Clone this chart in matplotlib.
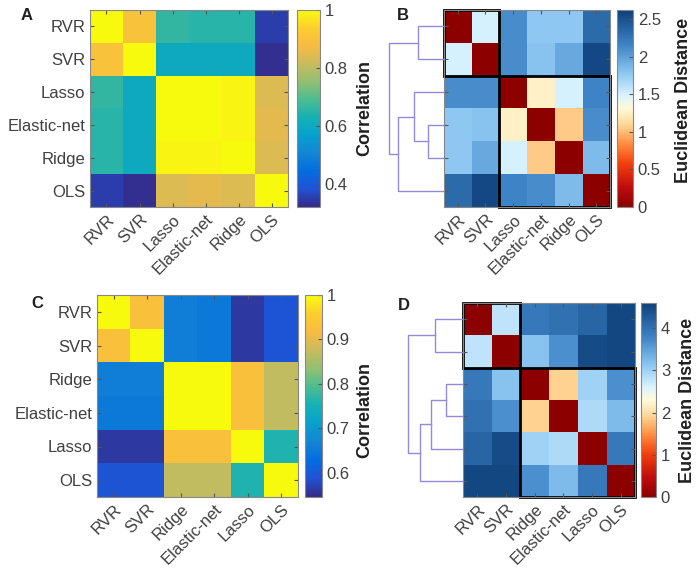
import matplotlib
matplotlib.use("Agg")
import matplotlib.pyplot as plt
import numpy as np
from matplotlib.colors import LinearSegmentedColormap
from matplotlib.patches import Rectangle

# ---- data ----
labels_a = ["RVR", "SVR", "Lasso", "Elastic-net", "Ridge", "OLS"]
corr_a = [
    [1.00, 0.90, 0.66, 0.65, 0.65, 0.35],
    [0.90, 1.00, 0.60, 0.60, 0.60, 0.33],
    [0.66, 0.60, 1.00, 1.00, 0.99, 0.84],
    [0.65, 0.60, 1.00, 1.00, 0.99, 0.85],
    [0.65, 0.60, 0.99, 0.99, 1.00, 0.84],
    [0.35, 0.33, 0.84, 0.85, 0.84, 1.00],
]
dist_b = [
    [0.00, 1.50, 2.10, 1.78, 1.78, 2.32],
    [1.50, 0.00, 2.10, 1.80, 1.95, 2.55],
    [2.10, 2.10, 0.00, 1.25, 1.50, 2.15],
    [1.78, 1.80, 1.25, 0.00, 1.05, 2.10],
    [1.78, 1.95, 1.50, 1.05, 0.00, 1.85],
    [2.32, 2.55, 2.15, 2.10, 1.85, 0.00],
]
# merges: (child a, child b, height); leaves 0..5, new clusters 6, 7, ...
link_b = [(3, 4, 16), (0, 1, 26), (2, 6, 29), (8, 5, 45), (7, 9, 54)]

labels_c = ["RVR", "SVR", "Ridge", "Elastic-net", "Lasso", "OLS"]
corr_c = [
    [1.00, 0.93, 0.66, 0.65, 0.56, 0.59],
    [0.93, 1.00, 0.66, 0.65, 0.56, 0.59],
    [0.66, 0.66, 1.00, 1.00, 0.93, 0.87],
    [0.65, 0.65, 1.00, 1.00, 0.93, 0.87],
    [0.56, 0.56, 0.93, 0.93, 1.00, 0.76],
    [0.59, 0.59, 0.87, 0.87, 0.76, 1.00],
]
dist_d = [
    [0.00, 2.80, 3.90, 4.00, 4.15, 4.50],
    [2.80, 0.00, 3.15, 3.65, 4.45, 4.50],
    [3.90, 3.15, 0.00, 1.90, 3.00, 3.65],
    [4.00, 3.65, 1.90, 0.00, 2.90, 3.25],
    [4.15, 4.45, 3.00, 2.90, 0.00, 3.90],
    [4.50, 4.50, 3.65, 3.25, 3.90, 0.00],
]
link_d = [(2, 3, 17), (0, 1, 28), (6, 4, 32), (8, 5, 43), (7, 9, 55)]

# ---- colormaps ----
parula = LinearSegmentedColormap.from_list("parula", [
    (0.2081, 0.1663, 0.5292), (0.1253, 0.3242, 0.8303), (0.0165, 0.4266, 0.8786),
    (0.0793, 0.5200, 0.8312), (0.0239, 0.6287, 0.8038), (0.0843, 0.6928, 0.7062),
    (0.3022, 0.7376, 0.5712), (0.5709, 0.7485, 0.4494), (0.7858, 0.7356, 0.3633),
    (0.9739, 0.7314, 0.2666), (0.9880, 0.8066, 0.1794), (0.9763, 0.9831, 0.0538),
])
dist_cmap = LinearSegmentedColormap.from_list("dist", [
    (0.00, (0.55, 0.00, 0.00)), (0.10, (0.75, 0.05, 0.05)),
    (0.22, (0.95, 0.25, 0.05)), (0.32, (1.00, 0.55, 0.25)),
    (0.42, (1.00, 0.85, 0.60)), (0.50, (1.00, 0.98, 0.85)),
    (0.57, (0.85, 0.95, 1.00)), (0.68, (0.55, 0.78, 0.95)),
    (0.82, (0.25, 0.52, 0.78)), (1.00, (0.05, 0.25, 0.48)),
])

plt.rcParams["font.family"] = ["Liberation Sans", "DejaVu Sans"]
TXT = "#404040"
W, H = 700, 576
fig = plt.figure(figsize=(W / 100, H / 100), dpi=100)


def box(x0, y0, x1, y1):
    return [x0 / W, 1 - y1 / H, (x1 - x0) / W, (y1 - y0) / H]


def heat(rect, crect, mat, labels, cmap, vmin, vmax, ticks, ticklabels, ylab=True):
    ax = fig.add_axes(rect)
    n = len(labels)
    im = ax.imshow(np.array(mat), cmap=cmap, vmin=vmin, vmax=vmax,
                   aspect="auto", interpolation="nearest")
    ax.set_xticks(range(n)); ax.set_yticks(range(n))
    ax.set_xticklabels(labels, rotation=45, ha="right", rotation_mode="anchor",
                       fontsize=12, color=TXT)
    if ylab:
        ax.set_yticklabels(labels, fontsize=12, color=TXT)
    else:
        ax.set_yticklabels([])
    ax.tick_params(direction="in", length=3, top=True, right=True, color="#555555")
    for s in ax.spines.values():
        s.set_color("#888888"); s.set_linewidth(0.8)
    cax = fig.add_axes(crect)
    cb = fig.colorbar(im, cax=cax)
    cb.set_ticks(ticks)
    cb.set_ticklabels(ticklabels)
    cax.tick_params(direction="in", length=3, labelsize=12, labelcolor=TXT,
                    color="#555555")
    cb.outline.set_edgecolor("#888888"); cb.outline.set_linewidth(0.8)
    return ax


def dendro(rect, link, n, hmax):
    ax = fig.add_axes(rect)
    pos = {i: (0.0, float(i)) for i in range(n)}
    for k, (a, b, h) in enumerate(link):
        (ha, ya), (hb, yb) = pos[a], pos[b]
        ax.plot([ha, h, h, hb], [ya, ya, yb, yb], color=(0.58, 0.54, 0.86), lw=1.0)
        pos[n + k] = (h, (ya + yb) / 2)
    ax.set_xlim(hmax, 0)
    ax.set_ylim(n - 0.5, -0.5)
    ax.axis("off")


def blocks(ax, groups):
    for start, size in groups:
        ax.add_patch(Rectangle((start - 0.5, start - 0.5), size, size, fill=False,
                               edgecolor="black", lw=2, clip_on=False))


# A
heat(box(90, 10, 288, 207), box(297, 10, 320, 207), corr_a, labels_a, parula,
     0.32, 1.0, [0.4, 0.6, 0.8, 1.0], ["0.4", "0.6", "0.8", "1"])
# B
ax_b = heat(box(444, 10, 610, 207), box(617, 10, 633, 207), dist_b, labels_a,
            dist_cmap, 0, 2.62, [0, 0.5, 1, 1.5, 2, 2.5],
            ["0", "0.5", "1", "1.5", "2", "2.5"], ylab=False)
blocks(ax_b, [(0, 2), (2, 4)])
dendro(box(386, 10, 444, 207), link_b, 6, 57)
# C
heat(box(97, 295, 298, 497), box(305, 295, 322, 497), corr_c, labels_c, parula,
     0.545, 1.0, [0.6, 0.7, 0.8, 0.9, 1.0], ["0.6", "0.7", "0.8", "0.9", "1"])
# D
ax_d = heat(box(463, 303, 635, 497), box(641, 303, 656, 497), dist_d, labels_c,
            dist_cmap, 0, 4.6, [0, 1, 2, 3, 4], ["0", "1", "2", "3", "4"],
            ylab=False)
blocks(ax_d, [(0, 2), (2, 4)])
dendro(box(405, 303, 463, 497), link_d, 6, 58)

# labels
for x, y, s in [(27, 15, "A"), (403, 15, "B"), (37, 303, "C"), (404, 305, "D")]:
    fig.text(x / W, 1 - y / H, s, fontsize=12, fontweight="bold", ha="center",
             va="center", color="#202020")
for x, y in [(365, 108), (365, 410)]:
    fig.text(x / W, 1 - y / H, "Correlation", rotation=90, fontsize=13,
             fontweight="bold", ha="center", va="center", color="#202020")
for x, y in [(683, 100), (687, 400)]:
    fig.text(x / W, 1 - y / H, "Euclidean Distance", rotation=90, fontsize=13,
             fontweight="bold", ha="center", va="center", color="#202020")

fig.savefig("out.png", dpi=100)
